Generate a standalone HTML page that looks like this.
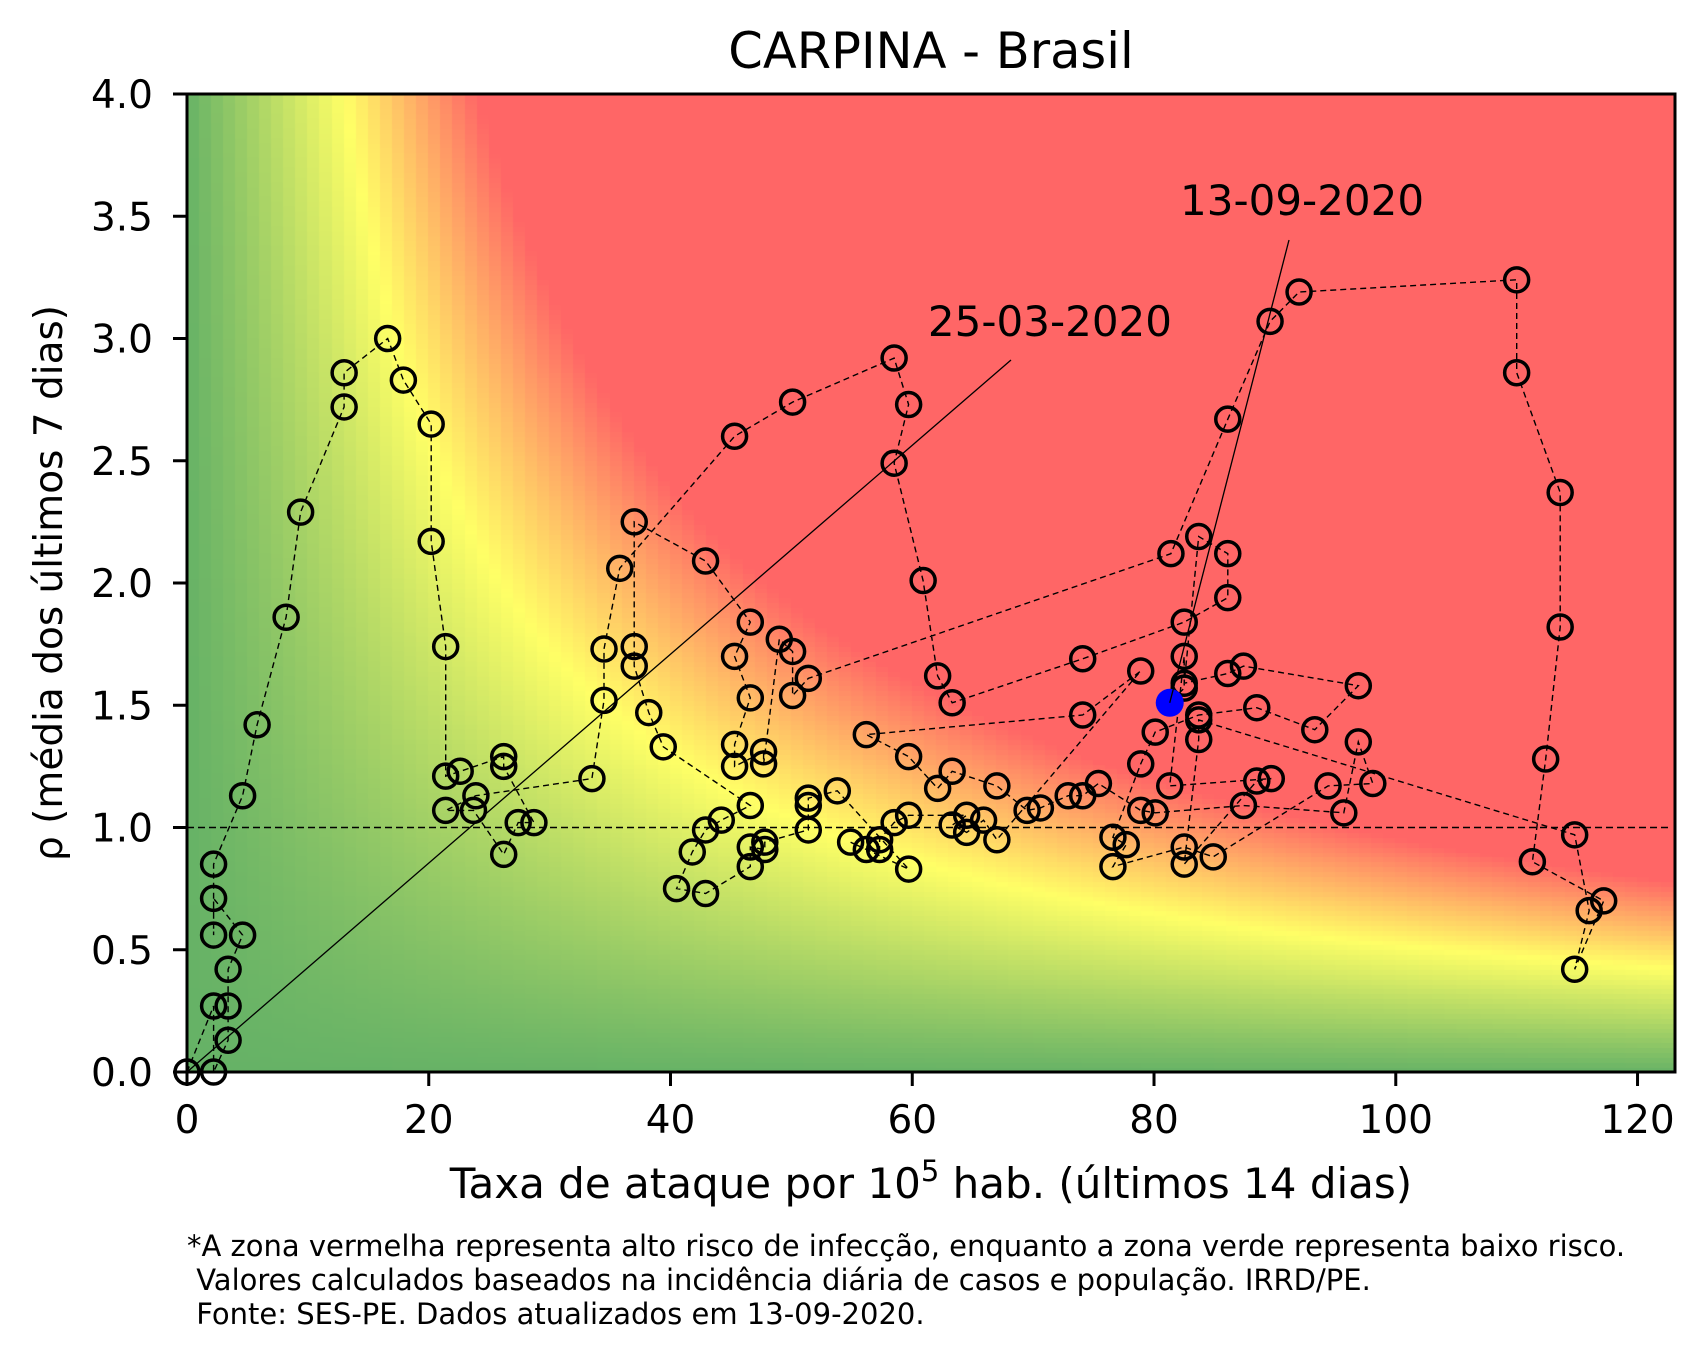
<!DOCTYPE html>
<html><head><meta charset="utf-8"><style>
html,body{margin:0;padding:0;background:#fff;}
#wrap{position:relative;width:1707px;height:1357px;overflow:hidden;}
canvas{position:absolute;left:0;top:0;}
svg{position:absolute;left:0;top:0;}
text{font-family:"DejaVu Sans","Liberation Sans",sans-serif;fill:#000;}
</style></head><body>
<div id="wrap">
<canvas id="heat" width="1707" height="1357"></canvas>
<svg id="chart" width="1707" height="1357" xmlns="http://www.w3.org/2000/svg"></svg>
</div>
<script>
const xs = [0,2.2,2.2,3.4,3.4,3.4,4.6,2.2,2.2,2.2,4.6,5.8,8.2,9.4,13,13,16.6,17.9,20.2,20.2,21.4,21.4,22.6,26.2,26.2,28.7,27.4,26.2,23.7,21.4,23.9,33.5,34.5,34.5,35.8,45.3,50.1,58.5,59.7,58.5,60.9,62.1,63.3,74.1,82.5,86.1,86.1,83.7,82.5,86.1,87.4,96.9,93.3,88.5,83.7,80.1,78.9,76.6,77.7,76.6,82.5,84.9,94.4,98.1,96.9,95.7,87.4,80.1,78.9,75.4,74.1,72.9,70.6,69.5,67,63.3,62.1,59.7,56.2,74.1,78.9,67,65.9,64.5,63.3,64.5,59.7,58.5,57.3,57.3,56.2,54.9,59.7,53.8,51.4,51.4,51.4,47.8,47.8,46.6,46.6,42.9,40.5,41.8,42.9,44.2,46.6,39.4,38.2,37,37,37,42.9,46.6,45.3,46.6,45.3,45.3,47.7,47.7,49,50.1,50.1,51.4,81.4,86.1,89.6,92,110,110,113.6,113.6,112.4,111.3,117.2,114.8,116,114.8,83.7,83.7,82.5,88.5,89.7,81.3,82.5,82.5,81.3];
const ys = [0,0.27,0,0.13,0.27,0.42,0.56,0.71,0.56,0.85,1.13,1.42,1.86,2.29,2.72,2.86,3.0,2.83,2.65,2.17,1.74,1.21,1.23,1.29,1.25,1.02,1.02,0.89,1.07,1.07,1.13,1.20,1.52,1.73,2.06,2.60,2.74,2.92,2.73,2.49,2.01,1.62,1.51,1.69,1.84,1.94,2.12,2.19,1.59,1.63,1.66,1.58,1.40,1.49,1.46,1.39,1.26,0.96,0.93,0.84,0.92,0.88,1.17,1.18,1.35,1.06,1.09,1.06,1.07,1.18,1.13,1.13,1.08,1.07,1.17,1.23,1.16,1.29,1.38,1.46,1.64,0.95,1.03,0.98,1.01,1.05,1.05,1.02,0.95,0.91,0.91,0.94,0.83,1.15,1.12,1.09,0.99,0.94,0.91,0.92,0.84,0.73,0.75,0.90,0.99,1.03,1.09,1.33,1.47,1.66,1.74,2.25,2.09,1.84,1.70,1.53,1.34,1.25,1.31,1.26,1.77,1.72,1.54,1.61,2.12,2.67,3.07,3.19,3.24,2.86,2.37,1.82,1.28,0.86,0.70,0.42,0.66,0.97,1.44,1.36,0.85,1.19,1.20,1.17,1.70,1.57,1.51];
const xTicks = [0,20,40,60,80,100,120];
const yTicks = [0,0.5,1.0,1.5,2.0,2.5,3.0,3.5,4.0];
const yTickLabels = ["0.0","0.5","1.0","1.5","2.0","2.5","3.0","3.5","4.0"];

const L=187,R=1675,T=94,B=1072,XMAX=123.1,YMAX=4;
const sx=v=>L+(v/XMAX)*(R-L);
const sy=v=>B-(v/YMAX)*(B-T);

(function(){
  const c=document.getElementById('heat').getContext('2d');
  const g=[102,178,102],yl=[255,255,102],rd=[255,102,102];
  function col(v){
    let a,b,t;
    if(v<52){a=g;b=yl;t=v/52;} else {a=yl;b=rd;t=Math.min(1,(v-52)/44);}
    return 'rgb('+a.map((q,i)=>Math.round(q+(b[i]-q)*t)).join(',')+')';
  }
  for(let xi=0;xi<124;xi++){
    for(let yi=0;yi<200;yi++){
      const xv=xi+0.5,yv=(yi+0.5)*0.02;
      c.fillStyle=col(xv*yv);
      const x0=sx(xi),x1=Math.min(sx(xi+1),R);
      const y0=sy((yi+1)*0.02),y1=sy(yi*0.02);
      c.fillRect(Math.floor(x0),Math.floor(y0),Math.ceil(x1-x0)+1,Math.ceil(y1-y0)+1);
    }
  }
  c.fillStyle='#fff';
  c.fillRect(R,0,1707-R,1357);c.fillRect(0,B,1707,300);c.fillRect(0,0,L,1357);c.fillRect(0,0,1707,T);
})();

const NS='http://www.w3.org/2000/svg';
const svg=document.getElementById('chart');
function mk(tag,attrs,parent){const e=document.createElementNS(NS,tag);for(const k in attrs)e.setAttribute(k,attrs[k]);(parent||svg).appendChild(e);return e;}

let el=mk('line',{x1:L,x2:R-5,y1:sy(1),y2:sy(1),stroke:'#000','stroke-width':1.6,'stroke-dasharray':'7,4'});



let d='';
for(let i=0;i<xs.length;i++){d+=(i?'L':'M')+sx(xs[i]).toFixed(1)+','+sy(ys[i]).toFixed(1);}
el=mk('path',{d:d,fill:'none',stroke:'#000','stroke-width':1.4,'stroke-dasharray':'6,4'});



const mg=mk('g',{});


for(let i=0;i<xs.length-1;i++){
  const c=mk('circle',{cx:sx(xs[i]),cy:sy(ys[i]),r:12,fill:'none',stroke:'#000','stroke-width':3.5},mg);
  
  
}
const n=xs.length-1;
el=mk('circle',{cx:sx(xs[n]),cy:sy(ys[n]),r:14,fill:'#0000ff'});



el=mk('line',{x1:sx(xs[0]),y1:sy(ys[0]),x2:1011,y2:360,stroke:'#000','stroke-width':1.3});


el=mk('text',{x:1172,y:336,'text-anchor':'end','font-size':42});
el.textContent='25-03-2020';


el=mk('line',{x1:1289,y1:240,x2:sx(xs[n]),y2:sy(ys[n]),stroke:'#000','stroke-width':1.3});


el=mk('text',{x:1180,y:215,'font-size':42});
el.textContent='13-09-2020';



el=mk('rect',{x:L,y:T,width:R-L,height:B-T,fill:'none',stroke:'#000','stroke-width':3});



xTicks.forEach(v=>{
  const t=mk('line',{x1:sx(v),x2:sx(v),y1:B,y2:B+14,stroke:'#000','stroke-width':3});
  
  
  const tl=mk('text',{x:sx(v),y:1133,'text-anchor':'middle','font-size':39});
  tl.textContent=String(v);
  
  
});
yTicks.forEach((v,i)=>{
  const t=mk('line',{x1:L-14,x2:L,y1:sy(v),y2:sy(v),stroke:'#000','stroke-width':3});
  
  
  const tl=mk('text',{x:153,y:sy(v)+14,'text-anchor':'end','font-size':39});
  tl.textContent=yTickLabels[i];
  
  
});
</script>
<svg width="1707" height="1357" style="position:absolute;left:0;top:0;pointer-events:none" xmlns="http://www.w3.org/2000/svg">
<text x="931" y="68" text-anchor="middle" font-size="49.5">CARPINA - Brasil</text>
<text x="931" y="1198" text-anchor="middle" font-size="42">Taxa de ataque por 10<tspan dy="-17" font-size="29">5</tspan><tspan dy="17"> hab. (últimos 14 dias)</tspan></text>
<text transform="translate(62,583) rotate(-90)" text-anchor="middle" font-size="39">ρ (média dos últimos 7 dias)</text>
<text x="187" y="1256" font-size="29">*A zona vermelha representa alto risco de infecção, enquanto a zona verde representa baixo risco.</text>
<text x="187" y="1290" font-size="29" xml:space="preserve"> Valores calculados baseados na incidência diária de casos e população. IRRD/PE.</text>
<text x="187" y="1324" font-size="29" xml:space="preserve"> Fonte: SES-PE. Dados atualizados em 13-09-2020.</text>
</svg>
</body></html>
